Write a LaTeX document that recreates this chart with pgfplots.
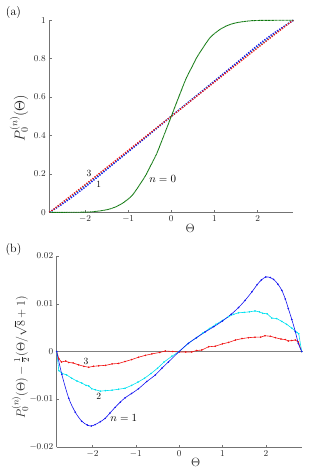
\documentclass[border=0pt]{standalone}
\usepackage{fontspec}
\usepackage{pgfplots}
\pgfplotsset{compat=1.18}
\usepackage{pgfplotstable}

\pgfplotstableread{
t d
-2.8284 0
-2.71 -0.0048
-2.55 -0.0098
-2.40 -0.0127
-2.25 -0.0146
-2.12 -0.0154
-2.03 -0.0156
-1.94 -0.0153
-1.82 -0.0147
-1.71 -0.0140
-1.60 -0.0129
-1.48 -0.0117
-1.36 -0.0106
-1.25 -0.0097
-1.10 -0.0088
-0.94 -0.0078
-0.75 -0.0063
-0.55 -0.0049
-0.40 -0.0035
-0.25 -0.0022
0 0
0.21 0.0017
0.40 0.0029
0.60 0.0041
0.80 0.0052
1.00 0.0064
1.20 0.0078
1.37 0.0092
1.52 0.0107
1.68 0.0125
1.80 0.0140
1.90 0.0150
2.00 0.0156
2.10 0.0155
2.18 0.0151
2.28 0.0141
2.37 0.0128
2.45 0.0110
2.52 0.0090
2.60 0.0067
2.68 0.0042
2.75 0.0017
2.8284 0
}\tblone

\pgfplotstableread{
t d
-2.8284 0
-2.78 -0.0040
-2.70 -0.0046
-2.60 -0.0049
-2.48 -0.0056
-2.36 -0.0062
-2.25 -0.0066
-2.15 -0.0071
-2.09 -0.0072
-2.02 -0.0078
-1.94 -0.0080
-1.82 -0.0083
-1.70 -0.0082
-1.55 -0.0081
-1.40 -0.0079
-1.25 -0.0077
-1.10 -0.0071
-0.95 -0.0064
-0.80 -0.0056
-0.65 -0.0046
-0.50 -0.0035
-0.35 -0.0022
-0.17 -0.0010
0 0
0.21 0.0017
0.40 0.0029
0.55 0.0039
0.70 0.0048
0.85 0.0057
1.00 0.0065
1.14 0.0073
1.26 0.0078
1.37 0.0081
1.50 0.0082
1.62 0.0083
1.75 0.0085
1.85 0.0083
1.93 0.0080
2.03 0.0079
2.14 0.0070
2.25 0.0069
2.37 0.0063
2.48 0.0057
2.60 0.0049
2.72 0.0040
2.76 0.0037
2.8284 0
}\tbltwo

\pgfplotstableread{
t d
-2.8284 0
-2.78 -0.0015
-2.72 -0.0022
-2.62 -0.0020
-2.55 -0.0023
-2.45 -0.0024
-2.32 -0.0028
-2.20 -0.0031
-2.09 -0.0033
-1.98 -0.0031
-1.86 -0.0030
-1.70 -0.0029
-1.55 -0.0026
-1.40 -0.0025
-1.25 -0.0021
-1.10 -0.0017
-0.94 -0.0012
-0.78 -0.0008
-0.63 -0.0005
-0.45 -0.0002
-0.32 0.0001
-0.15 0.0000
0 -0.0001
0.15 -0.0001
0.29 -0.0001
0.40 0.0002
0.52 0.0003
0.68 0.0010
0.83 0.0011
1.00 0.0016
1.14 0.0019
1.30 0.0024
1.45 0.0027
1.60 0.0029
1.75 0.0030
1.88 0.0030
1.98 0.0033
2.10 0.0032
2.22 0.0029
2.35 0.0026
2.45 0.0025
2.52 0.0022
2.60 0.0023
2.68 0.0024
2.75 0.0020
2.8284 0
}\tblthree

\pgfplotstableread{
t v
-2.8284 0
-2.4 0.0
-2.1 0.0005
-1.87 0.002
-1.7 0.006
-1.5 0.013
-1.3 0.027
-1.1 0.052
-0.9 0.09
-0.72 0.148
-0.6 0.19
-0.49 0.238
-0.35 0.30
-0.25 0.355
-0.12 0.43
0 0.5
0.12 0.57
0.25 0.645
0.35 0.70
0.49 0.762
0.6 0.81
0.72 0.852
0.9 0.91
1.1 0.948
1.3 0.973
1.5 0.987
1.7 0.994
1.87 0.998
2.1 0.9995
2.4 1.0
2.8284 1.0
}\tblzero

\definecolor{mblue}{RGB}{20,20,240}
\definecolor{mcyan}{RGB}{0,225,240}
\definecolor{mred}{RGB}{240,20,20}
\definecolor{mgreen}{RGB}{15,120,15}

\begin{document}
\begin{tikzpicture}
\path[use as bounding box] (0pt,0pt) rectangle (313pt,474pt);
\pgfplotsset{
  myax/.style={
    scale only axis, axis lines=left,
    axis line style={-, draw=black!55, line width=0.5pt},
    tick align=inside, major tick length=2.5pt,
    tick style={black!55, line width=0.4pt},
    xmin=-2.8284, xmax=2.8284, enlargelimits=false,
    xtick={-2,-1,0,1,2},
    ticklabel style={font=\fontsize{9}{10}\selectfont, text=black!85},
    label style={font=\fontsize{12.5}{14}\selectfont, text=black!85},
    clip=false,
  }
}
% panel (a)
\begin{axis}[myax, at={(49.3pt,261.7pt)}, anchor=south west,
  width=244pt, height=192pt, ymin=0, ymax=1,
  ytick={0,0.2,0.4,0.6,0.8,1},
  yticklabels={$0$,$0.2$,$0.4$,$0.6$,$0.8$,$1$},
  xlabel={$\Theta$},
  xlabel style={at={(axis description cs:0.577,-0.082)}, anchor=center},
  ylabel={$P_0^{(n)}(\Theta)$},
  ylabel style={at={(axis description cs:-0.124,0.49)}, anchor=center, font=\fontsize{14.5}{16}\selectfont},
]
\addplot[mcyan, line width=1.4pt, dash pattern=on 1.3pt off 1.3pt] table[x=t, y expr={\thisrow{d}+0.5*(\thisrow{t}/2.8284271+1)}] {\tbltwo};
\addplot[mblue, line width=1.4pt, dash pattern=on 1.3pt off 1.3pt] table[x=t, y expr={\thisrow{d}+0.5*(\thisrow{t}/2.8284271+1)}] {\tblone};
\addplot[mred, line width=1.4pt, dash pattern=on 1.3pt off 1.3pt] table[x=t, y expr={\thisrow{d}+0.5*(\thisrow{t}/2.8284271+1)}] {\tblthree};
\addplot[mgreen, line width=0.9pt, smooth, dash pattern=on 1pt off 0.4pt] table[x=t, y=v] {\tblzero};
\node[font=\fontsize{9.5}{10}\selectfont] at (axis cs:-1.91,0.20) {3};
\node[font=\fontsize{9.5}{10}\selectfont] at (axis cs:-1.68,0.148) {1};
\node[font=\fontsize{10.5}{11}\selectfont] at (axis cs:-0.2,0.173) {$n=0$};
\end{axis}
% panel (b)
\begin{axis}[myax, at={(56.7pt,27pt)}, anchor=south west,
  width=245pt, height=191pt, ymin=-0.02, ymax=0.02,
  ytick={-0.02,-0.01,0,0.01,0.02},
  yticklabels={$-0.02$,$-0.01$,$0$,$0.01$,$0.02$},
  scaled y ticks=false,
  xlabel={$\Theta$},
  xlabel style={at={(axis description cs:0.567,-0.082)}, anchor=center},
  ylabel={$P_0^{(n)}(\Theta)-\frac{1}{2}(\Theta/\sqrt{8}+1)$},
  ylabel style={at={(axis description cs:-0.148,0.47)}, anchor=center},
]
\addplot[black!50, line width=0.6pt] coordinates {(-2.8284,0) (2.8284,0)};
\addplot[mred, line width=0.6pt, mark=*, mark size=0.45pt] table[x=t, y=d] {\tblthree};
\addplot[mcyan, line width=0.6pt, mark=*, mark size=0.45pt] table[x=t, y=d] {\tbltwo};
\addplot[mblue, line width=0.6pt, smooth, mark=*, mark size=0.45pt] table[x=t, y=d] {\tblone};
\node[font=\fontsize{9.5}{10}\selectfont] at (axis cs:-2.15,-0.0021) {3};
\node[font=\fontsize{9.5}{10}\selectfont] at (axis cs:-1.86,-0.0094) {2};
\node[font=\fontsize{10.5}{11}\selectfont] at (axis cs:-1.28,-0.0139) {$n=1$};
\end{axis}
\node[font=\fontsize{12}{13}\selectfont] at (13.5pt,461.5pt) {(a)};
\node[font=\fontsize{12}{13}\selectfont] at (13.5pt,224pt) {(b)};
\end{tikzpicture}
\end{document}
